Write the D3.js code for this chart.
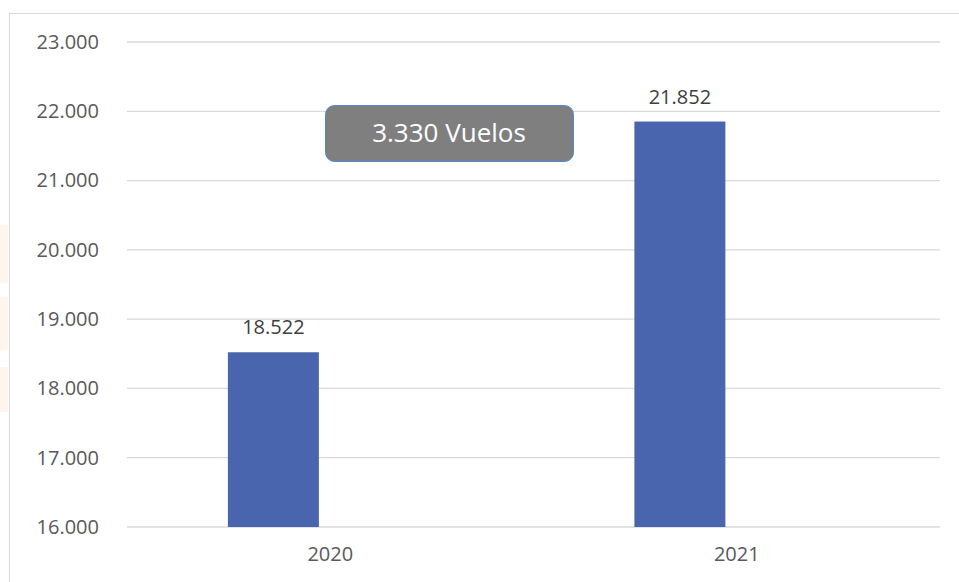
<!DOCTYPE html>
<html>
<head>
<meta charset="utf-8">
<script src="https://cdn.jsdelivr.net/npm/d3@7"></script>
<style>
  body { margin: 0; background: #fff; }
  svg { display: block; font-family: "Open Sans", sans-serif; }
</style>
</head>
<body>
<svg id="chart" width="959" height="582"></svg>
<script>
// Data
const years = ["2020", "2021"];
const flights = [18522, 21852];
const yTicks = [16000, 17000, 18000, 19000, 20000, 21000, 22000, 23000];
const calloutText = "3.330 Vuelos";

const svg = d3.select("#chart");
const fmt = (v) => d3.format(",")(v).replace(/,/g, ".");

// faint page background bleeding in at the left edge
[[225, 58], [297, 53], [367, 45]].forEach(([yy, h]) =>
  svg.append("rect").attr("x", 0).attr("y", yy).attr("width", 8).attr("height", h)
    .attr("fill", "#fff5ec"));

// chart frame (cut at right and bottom)
svg.append("path")
  .attr("d", "M9.5,582 V13.5 H959")
  .attr("fill", "none")
  .attr("stroke", "#d9d9d9");

const plotLeft = 127, plotRight = 940, plotTop = 42, plotBottom = 527;

const y = d3.scaleLinear().domain([16000, 23000]).range([plotBottom, plotTop]);
const x0 = d3.scaleBand().domain(years).range([plotLeft, plotRight]);
// two slots per category (Excel style, -25% overlap); only the first is used
const x1 = d3.scaleBand().domain(["a", "b"]).range([0, x0.bandwidth()])
  .paddingInner(0.2).paddingOuter(0.887);

// gridlines
svg.append("g")
  .selectAll("line")
  .data(yTicks)
  .join("line")
  .attr("x1", plotLeft)
  .attr("x2", plotRight)
  .attr("y1", (d) => y(d))
  .attr("y2", (d) => y(d))
  .attr("stroke", "#d9d9d9")
  .attr("stroke-width", 1.3);

// y axis labels
const yAxis = svg.append("g")
  .attr("transform", `translate(${plotLeft - 28},0)`)
  .call(d3.axisLeft(y).tickValues(yTicks).tickFormat(fmt).tickSize(0).tickPadding(0));
yAxis.select(".domain").remove();
yAxis.selectAll("text")
  .attr("fill", "#595959")
  .attr("font-size", 20)
  .attr("font-family", "Open Sans");

// x axis labels
const xAxis = svg.append("g")
  .attr("transform", `translate(0,${plotBottom + 20})`)
  .call(d3.axisBottom(x0).tickSize(0).tickPadding(0));
xAxis.select(".domain").remove();
xAxis.selectAll("text")
  .attr("fill", "#595959")
  .attr("font-size", 20)
  .attr("font-family", "Open Sans");

// bars
const data = years.map((yr, i) => ({ year: yr, value: flights[i] }));
svg.append("g")
  .selectAll("rect")
  .data(data)
  .join("rect")
  .attr("x", (d) => x0(d.year) + x1("a"))
  .attr("width", x1.bandwidth())
  .attr("y", (d) => y(d.value))
  .attr("height", (d) => y(16000) - y(d.value))
  .attr("fill", "#4865ad");

// value labels
svg.append("g")
  .selectAll("text")
  .data(data)
  .join("text")
  .attr("x", (d) => x0(d.year) + x1("a") + x1.bandwidth() / 2)
  .attr("y", (d) => y(d.value) - 18)
  .attr("text-anchor", "middle")
  .attr("fill", "#404040")
  .attr("font-size", 20)
  .text((d) => fmt(d.value));

// callout box
const callout = svg.append("g").attr("transform", "translate(325,105)");
callout.append("rect")
  .attr("x", 0.5)
  .attr("y", 0.5)
  .attr("width", 248)
  .attr("height", 56)
  .attr("rx", 9)
  .attr("fill", "#7f7f7f")
  .attr("stroke", "#4a8ad4")
  .attr("stroke-width", 1);
callout.append("text")
  .attr("x", 124)
  .attr("y", 37)
  .attr("text-anchor", "middle")
  .attr("fill", "#ffffff")
  .attr("font-size", 26)
  .text(calloutText);
</script>
</body>
</html>
